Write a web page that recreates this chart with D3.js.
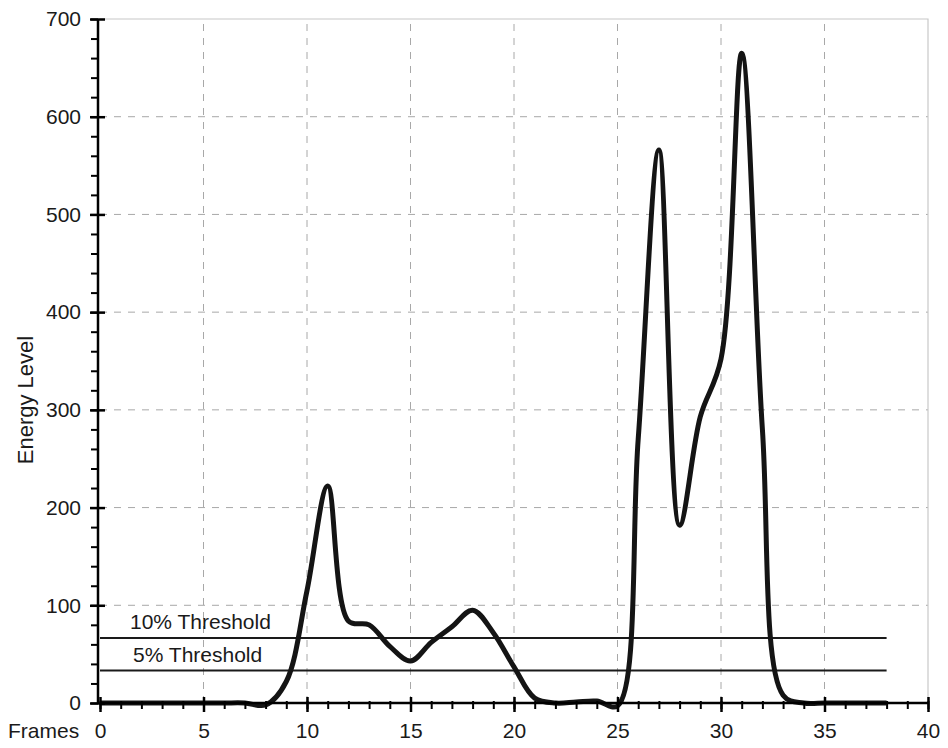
<!DOCTYPE html>
<html>
<head>
<meta charset="utf-8">
<script src="https://cdn.jsdelivr.net/npm/d3@7"></script>
<style>
  body { margin: 0; background: #fff; }
  svg { display: block; font-family: Arial, "Liberation Sans", sans-serif; }
</style>
</head>
<body>
<svg width="948" height="748"></svg>
<script>
// frames along the x axis and the energy measured at each
let frames = [0, 1, 2, 3, 4, 5, 6, 7, 8, 9, 10, 11, 12, 13, 14, 15, 16, 17, 18, 19,
    20, 21, 22, 23, 24, 25, 26, 27, 28, 29, 30, 31, 32, 33, 34, 35, 36, 37, 38];
let energy = [0, 0, 0, 0, 0, 0, 0, 0, -2, 22, 115, 222, 84, 80, 58, 43, 62, 78, 95, 72,
    37, 5, 0, 1, 2, -3, 270, 566, 182, 293, 352, 665, 280, 8, 0, 0, 0, 0, 0];

let thresholds = [
    { label: '10% Threshold', value: 66.5 },
    { label: '5% Threshold', value: 33.25 }
];

let xTicks = [0, 5, 10, 15, 20, 25, 30, 35, 40],
    yTicks = [0, 100, 200, 300, 400, 500, 600, 700];
let xMinor = [], yMinor = [];
for (let i = 0; i <= 40; i++) xMinor.push(i);
for (let i = 0; i <= 700; i += 20) yMinor.push(i);

const x = d3.scaleLinear().domain([0, 40]).range([100, 928]);
const y = d3.scaleLinear().domain([0, 700]).range([703, 19]);

let svg = d3.select('svg');

// grid
let grid = svg.append('g').attr('class', 'grid');
grid.selectAll('line.h')
    .data(yTicks.filter(d => d > 0 && d < 700))
    .enter().append('line')
    .attr('x1', x(0)).attr('x2', x(40))
    .attr('y1', d => y(d)).attr('y2', d => y(d))
    .attr('stroke', '#a8a8a8').attr('stroke-width', 1)
    .attr('stroke-dasharray', '7,7');
grid.selectAll('line.v')
    .data(xTicks.filter(d => d > 0 && d < 40))
    .enter().append('line')
    .attr('x1', d => x(d)).attr('x2', d => x(d))
    .attr('y1', y(0)).attr('y2', y(700))
    .attr('stroke', '#a8a8a8').attr('stroke-width', 1)
    .attr('stroke-dasharray', '7,7');
// light frame on top and right
grid.append('path')
    .attr('d', `M${x(0)},${y(700)}H${x(40)}V${y(0)}`)
    .attr('fill', 'none')
    .attr('stroke', '#c8c8c8').attr('stroke-width', 1.2);

// threshold lines
let thr = svg.append('g').attr('class', 'thresholds');
thr.selectAll('line')
    .data(thresholds)
    .enter().append('line')
    .attr('x1', x(0)).attr('x2', x(frames[frames.length - 1]))
    .attr('y1', d => y(d.value)).attr('y2', d => y(d.value))
    .attr('stroke', '#1a1a1a').attr('stroke-width', 2);
thr.selectAll('text')
    .data(thresholds)
    .enter().append('text')
    .attr('x', (d, i) => i === 0 ? 130 : 133)
    .attr('y', d => y(d.value) - 9)
    .attr('font-size', 21)
    .attr('fill', '#1a1a1a')
    .text(d => d.label);

// energy curve
let line = d3.line()
    .x((d, i) => x(frames[i]))
    .y(d => y(d))
    .curve(d3.curveCatmullRom.alpha(0.5));

svg.append('path')
    .datum(energy)
    .attr('d', line)
    .attr('fill', 'none')
    .attr('stroke', '#141414')
    .attr('stroke-width', 5)
    .attr('stroke-linejoin', 'round');

// x axis
let xAxisG = svg.append('g').attr('transform', `translate(0,${y(0)})`);
xAxisG.append('g')
    .call(d3.axisBottom(x).tickValues(xMinor).tickSize(6).tickFormat(''))
    .call(g => g.select('.domain').remove())
    .call(g => g.selectAll('.tick line').attr('y1', -2).attr('stroke-width', 2));
xAxisG.append('g')
    .call(d3.axisBottom(x).tickValues(xTicks).tickSize(9).tickPadding(11))
    .call(g => g.select('.domain').attr('stroke-width', 2.5).attr('d', `M${x(0)},0H${x(40)}`))
    .call(g => g.selectAll('.tick line').attr('y1', -6).attr('stroke-width', 2.5))
    .call(g => g.selectAll('.tick text').attr('font-size', 21).attr('fill', '#1a1a1a')
        .attr('font-family', 'Arial, "Liberation Sans", sans-serif'));

// y axis
let yAxisG = svg.append('g').attr('transform', `translate(${x(0) - 2},0)`);
yAxisG.append('g')
    .call(d3.axisLeft(y).tickValues(yMinor).tickSize(7).tickFormat(''))
    .call(g => g.select('.domain').remove())
    .call(g => g.selectAll('.tick line').attr('stroke-width', 2));
yAxisG.append('g')
    .call(d3.axisLeft(y).tickValues(yTicks).tickSize(8).tickPadding(9))
    .call(g => g.select('.domain').attr('stroke-width', 2.5).attr('d', `M0,${y(0)}V${y(700)}`))
    .call(g => g.selectAll('.tick line').attr('x1', 7).attr('stroke-width', 2.5))
    .call(g => g.selectAll('.tick text').attr('font-size', 21).attr('fill', '#1a1a1a')
        .attr('font-family', 'Arial, "Liberation Sans", sans-serif'));

// axis titles
svg.append('text')
    .attr('x', 8).attr('y', 738)
    .attr('font-size', 21)
    .attr('fill', '#1a1a1a')
    .text('Frames');

svg.append('text')
    .attr('transform', 'translate(33,400) rotate(-90)')
    .attr('text-anchor', 'middle')
    .attr('font-size', 22)
    .attr('fill', '#1a1a1a')
    .text('Energy Level');
</script>
</body>
</html>
